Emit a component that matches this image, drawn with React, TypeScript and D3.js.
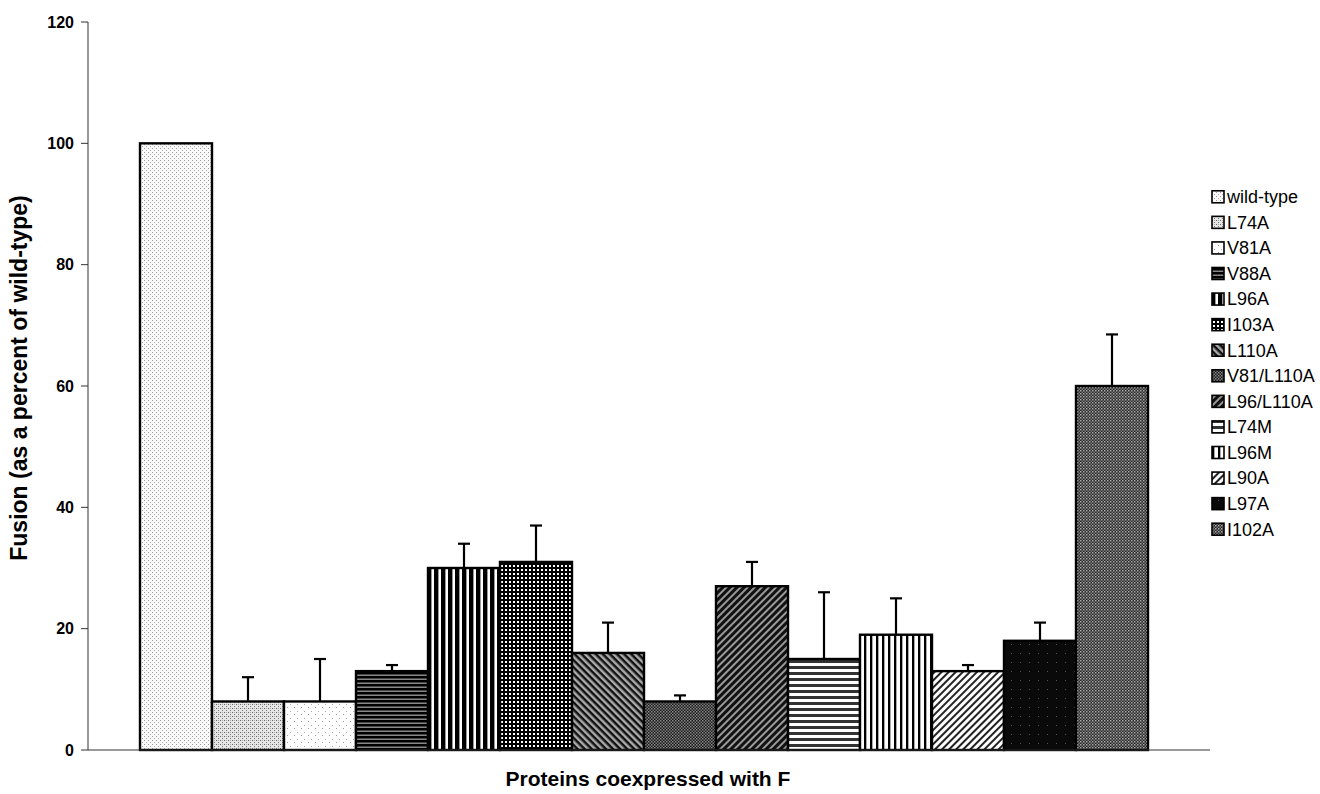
import React from "react";
import * as d3 from "d3";

const categories = ["wild-type","L74A","V81A","V88A","L96A","I103A","L110A","V81/L110A","L96/L110A","L74M","L96M","L90A","L97A","I102A"];
const values = [100, 8, 8, 13, 30, 31, 16, 8, 27, 15, 19, 13, 18, 60];
const errors = [0, 4, 7, 1, 4, 6, 5, 1, 4, 11, 6, 1, 3, 8.5];
const yTicks = [0, 20, 40, 60, 80, 100, 120];
const patternIds = ["pWT","pL74A","pV81A","pV88A","pL96A","pI103A","pL110A","pV81L110A","pL96L110A","pL74M","pL96M","pL90A","pL97A","pI102A"];

const W = 1320, H = 794;
const font = "'Liberation Sans', Arial, sans-serif";

function Patterns() {
  return (
    <defs>
      <pattern id="pWT" width="4" height="4" patternUnits="userSpaceOnUse">
        <rect width="4" height="4" fill="#fafafa" />
        <rect x="0" y="0" width="1" height="1" fill="#999" />
        <rect x="2" y="2" width="1" height="1" fill="#aaa" />
      </pattern>
      <pattern id="pL74A" width="4" height="4" patternUnits="userSpaceOnUse">
        <rect width="4" height="4" fill="#e6e6e6" />
        <rect x="0" y="0" width="1" height="1" fill="#666" />
        <rect x="2" y="2" width="1" height="1" fill="#777" />
        <rect x="2" y="0" width="1" height="1" fill="#aaa" />
      </pattern>
      <pattern id="pV81A" width="7" height="7" patternUnits="userSpaceOnUse">
        <rect width="7" height="7" fill="#fff" />
        <rect x="0" y="0" width="1" height="1" fill="#999" />
        <rect x="3" y="4" width="1" height="1" fill="#aaa" />
      </pattern>
      <pattern id="pV88A" width="4" height="4" patternUnits="userSpaceOnUse">
        <rect width="4" height="4" fill="#888" />
        <rect x="0" y="0" width="4" height="2.5" fill="#000" />
      </pattern>
      <pattern id="pL96A" width="7" height="7" patternUnits="userSpaceOnUse">
        <rect width="7" height="7" fill="#fff" />
        <rect x="0" y="0" width="4" height="7" fill="#000" />
        <rect x="4" y="0" width="1" height="7" fill="#999" />
      </pattern>
      <pattern id="pI103A" width="4" height="4" patternUnits="userSpaceOnUse">
        <rect width="4" height="4" fill="#000" />
        <rect x="1" y="1" width="2" height="2" fill="#fff" />
      </pattern>
      <pattern id="pL110A" width="5" height="5" patternUnits="userSpaceOnUse" patternTransform="rotate(45)">
        <rect width="5" height="5" fill="#aaa" />
        <rect x="0" y="0" width="5" height="2.5" fill="#111" />
      </pattern>
      <pattern id="pV81L110A" width="3" height="3" patternUnits="userSpaceOnUse">
        <rect width="3" height="3" fill="#1a1a1a" />
        <rect x="0" y="0" width="1.5" height="1.5" fill="#888" />
        <rect x="1.5" y="1.5" width="1.5" height="1.5" fill="#777" />
      </pattern>
      <pattern id="pL96L110A" width="5" height="5" patternUnits="userSpaceOnUse" patternTransform="rotate(-45)">
        <rect width="5" height="5" fill="#999" />
        <rect x="0" y="0" width="5" height="3" fill="#111" />
      </pattern>
      <pattern id="pL74M" width="6" height="6" patternUnits="userSpaceOnUse">
        <rect width="6" height="6" fill="#fff" />
        <rect x="0" y="0" width="6" height="3" fill="#333" />
      </pattern>
      <pattern id="pL96M" width="6" height="6" patternUnits="userSpaceOnUse">
        <rect width="6" height="6" fill="#fff" />
        <rect x="0" y="0" width="2" height="6" fill="#000" />
        <rect x="2" y="0" width="1" height="6" fill="#aaa" />
      </pattern>
      <pattern id="pL90A" width="5" height="5" patternUnits="userSpaceOnUse" patternTransform="rotate(-45)">
        <rect width="5" height="5" fill="#fff" />
        <rect x="0" y="0" width="5" height="2" fill="#222" />
      </pattern>
      <pattern id="pL97A" width="9" height="9" patternUnits="userSpaceOnUse">
        <rect width="9" height="9" fill="#0a0a0a" />
        <rect x="3" y="5" width="1" height="1" fill="#555" />
      </pattern>
      <pattern id="pI102A" width="3" height="3" patternUnits="userSpaceOnUse">
        <rect width="3" height="3" fill="#2a2a2a" />
        <rect x="0" y="0" width="1.5" height="1.5" fill="#aaa" />
        <rect x="1.5" y="1.5" width="1.5" height="1.5" fill="#777" />
      </pattern>
    </defs>
  );
}

export default function App() {
  const x0 = 88, x1 = 1210, yTop = 22, yBot = 750;
  const y = d3.scaleLinear().domain([0, 120]).range([yBot, yTop]);
  const x = d3.scaleBand<string>().domain(categories).range([140, 1148]).padding(0);
  const bw = x.bandwidth();
  const legendY = d3.scaleBand<string>().domain(categories).range([184, 542]);

  return (
    <svg width={W} height={H} style={{ position: "absolute", left: 0, top: 0, background: "#fff" }}>
      <Patterns />
      <rect width={W} height={H} fill="#fff" />
      {categories.map((c, i) => (
        <g key={c}>
          <rect x={x(c)!} y={y(values[i])} width={bw} height={yBot - y(values[i])}
            fill={`url(#${patternIds[i]})`} stroke="#000" strokeWidth={2.4} />
          {errors[i] > 0 && (
            <g stroke="#000" strokeWidth={2.2}>
              <line x1={x(c)! + bw / 2} x2={x(c)! + bw / 2} y1={y(values[i])} y2={y(values[i] + errors[i])} />
              <line x1={x(c)! + bw / 2 - 6} x2={x(c)! + bw / 2 + 6} y1={y(values[i] + errors[i])} y2={y(values[i] + errors[i])} />
            </g>
          )}
        </g>
      ))}
      <line x1={x0} x2={x0} y1={yTop} y2={yBot} stroke="#333" strokeWidth={1} />
      <line x1={x0} x2={x1} y1={yBot} y2={yBot} stroke="#333" strokeWidth={1} />
      {yTicks.map(t => (
        <g key={t}>
          <line x1={x0 - 7} x2={x0} y1={y(t)} y2={y(t)} stroke="#333" strokeWidth={1} />
          <text x={x0 - 14} y={y(t)} dy="0.35em" textAnchor="end" fontFamily={font} fontWeight="bold" fontSize={16}>{t}</text>
        </g>
      ))}
      <text transform={`translate(27,378) rotate(-90)`} textAnchor="middle"
        fontFamily={font} fontWeight="bold" fontSize={23}>Fusion (as a percent of wild-type)</text>
      <text x={648} y={786} textAnchor="middle" fontFamily={font} fontWeight="bold" fontSize={21}>Proteins coexpressed with F</text>
      {categories.map((c, i) => {
        const cy = legendY(c)! + legendY.bandwidth() / 2;
        return (
          <g key={c}>
            <rect x={1212} y={cy - 6} width={12} height={12} fill={`url(#${patternIds[i]})`} stroke="#000" strokeWidth={1.6} />
            <text x={1227} y={cy} dy="0.35em" fontFamily={font} fontSize={18}>{c}</text>
          </g>
        );
      })}
    </svg>
  );
}
